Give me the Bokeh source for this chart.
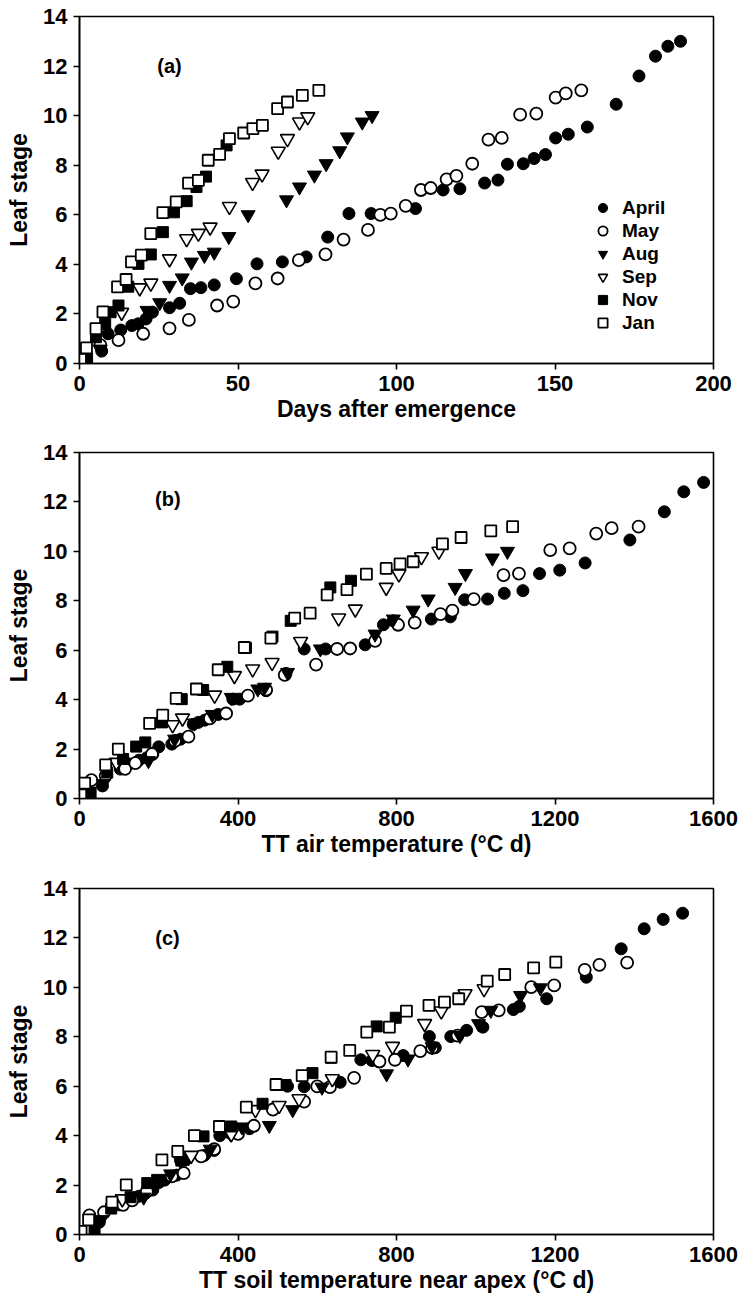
from bokeh.plotting import figure
from bokeh.layouts import column
from bokeh.models import Legend, LegendItem, Label, FixedTicker, Range1d
from bokeh.embed import file_html
from bokeh.resources import INLINE

FONT = "Liberation Sans"

series_names = ["April", "May", "Aug", "Sep", "Nov", "Jan"]

# ---------------- Panel (a): days after emergence ----------------
a_april_x = [7, 9, 13, 16.5, 18.5, 21, 23, 28.4, 31.6, 35, 38.3, 42.5, 49.5, 56, 64, 71.5, 78.3, 85, 92, 106, 114.7, 120, 127.8, 132, 135, 140, 143.4, 147, 150.2, 154.2, 160.2, 169.3, 176.5, 181.7, 185.6, 189.6]
a_april_y = [0.5, 1.2, 1.35, 1.53, 1.6, 1.8, 2.07, 2.25, 2.43, 3.02, 3.06, 3.17, 3.42, 4.02, 4.1, 4.3, 5.1, 6.05, 6.05, 6.25, 7.0, 7.05, 7.28, 7.4, 8.04, 8.06, 8.27, 8.43, 9.1, 9.25, 9.54, 10.46, 11.6, 12.4, 12.8, 13.0]
a_may_x = [6.6, 12.3, 20.1, 28.4, 34.5, 43.4, 48.5, 55.5, 62.5, 69.2, 77.6, 83.3, 91, 94.9, 98.2, 102.9, 107.7, 110.8, 115.8, 118.9, 123.9, 129, 133.2, 139, 144.1, 150.2, 153.4, 158.3]
a_may_y = [0.74, 0.94, 1.2, 1.42, 1.76, 2.34, 2.5, 3.23, 3.43, 4.17, 4.4, 5.0, 5.39, 6.0, 6.05, 6.36, 7.0, 7.08, 7.43, 7.57, 8.06, 9.03, 9.1, 10.04, 10.08, 10.73, 10.9, 11.02]
a_aug_x = [6.5, 21.3, 25.3, 28.4, 32.4, 35.3, 39.4, 42.5, 47.1, 53.2, 65.3, 69.4, 74.1, 77.8, 82.1, 84.5, 89.2, 92.3]
a_aug_y = [0.58, 2.14, 2.45, 3.15, 3.45, 4.09, 4.36, 4.49, 5.12, 6.0, 6.6, 7.12, 7.6, 8.06, 8.58, 9.14, 9.74, 10.0]
a_sep_x = [13.3, 19, 22.5, 28.4, 33.8, 37.5, 41.2, 47.3, 54.6, 57.6, 62.7, 65.6, 69.4, 72]
a_sep_y = [2.06, 3.05, 3.24, 4.22, 5.03, 5.25, 5.5, 6.33, 7.3, 7.64, 8.56, 9.07, 9.74, 9.95]
a_nov_x = [2.4, 5.2, 8.1, 9.8, 12.3, 15.4, 18.6, 22.5, 26.3, 29.8, 33.8, 36.9, 39.9, 46.4]
a_nov_y = [0.19, 1.06, 1.6, 2.07, 2.34, 3.1, 4.02, 4.4, 5.3, 6.1, 6.55, 7.12, 7.54, 8.8]
a_jan_x = [0.3, 2.2, 5.2, 7.4, 12, 14.7, 16.4, 19.5, 22.5, 26.3, 30.5, 34.4, 37.5, 40.6, 44.2, 47.3, 51.8, 54.7, 57.7, 62.5, 65.6, 70.3, 75.5]
a_jan_y = [0.17, 0.63, 1.41, 2.08, 3.09, 3.39, 4.1, 4.37, 5.24, 6.09, 6.52, 7.28, 7.39, 8.2, 8.44, 9.07, 9.3, 9.48, 9.61, 10.28, 10.55, 10.82, 11.02]

# ---------------- Panel (b): TT air temperature ----------------
b_april_x = [58, 103, 125, 150, 170, 185, 200, 233, 255, 287, 300, 316, 350, 387, 404, 471, 521, 567, 621, 721, 767, 792, 888, 936, 972, 1030, 1072, 1119, 1161, 1212, 1276, 1389, 1476, 1525, 1575]
b_april_y = [0.51, 1.19, 1.4, 1.55, 1.65, 1.8, 2.09, 2.2, 2.4, 3.0, 3.08, 3.17, 3.4, 4.02, 4.02, 4.36, 5.06, 6.05, 6.05, 6.22, 7.03, 7.19, 7.26, 7.35, 8.04, 8.07, 8.3, 8.41, 9.1, 9.24, 9.53, 10.46, 11.6, 12.41, 12.79]
b_may_x = [30, 66, 115, 141, 183, 241, 275, 329, 370, 425, 471, 518, 597, 650, 683, 746, 804, 846, 911, 941, 995, 1070, 1109, 1188, 1237, 1304, 1343, 1411]
b_may_y = [0.74, 0.92, 1.2, 1.43, 1.8, 2.33, 2.5, 3.24, 3.44, 4.16, 4.4, 5.0, 5.42, 6.05, 6.07, 6.38, 7.03, 7.12, 7.46, 7.6, 8.07, 9.04, 9.1, 10.05, 10.12, 10.72, 10.94, 11.0]
b_aug_x = [60, 174, 240, 290, 335, 383, 450, 467, 525, 608, 746, 792, 842, 880, 948, 974, 1042, 1080]
b_aug_y = [0.6, 1.53, 2.4, 3.05, 3.4, 4.09, 4.43, 4.5, 5.1, 6.05, 6.65, 7.26, 7.62, 8.07, 8.54, 9.1, 9.73, 10.0]
b_sep_x = [93, 235, 260, 341, 391, 437, 486, 558, 654, 696, 774, 806, 863, 907]
b_sep_y = [1.46, 2.98, 3.25, 4.18, 4.97, 5.24, 5.5, 6.35, 7.3, 7.66, 8.54, 9.08, 9.78, 10.0]
b_nov_x = [28, 70, 110, 143, 166, 208, 258, 312, 373, 420, 487, 533, 633, 685]
b_nov_y = [0.24, 1.05, 1.6, 2.1, 2.27, 3.08, 4.02, 4.39, 5.33, 6.1, 6.55, 7.19, 8.54, 8.81]
b_jan_x = [3, 13, 66, 98, 177, 210, 244, 295, 350, 416, 483, 543, 582, 625, 675, 724, 774, 809, 842, 916, 963, 1038, 1093]
b_jan_y = [0.15, 0.62, 1.36, 2.0, 3.04, 3.37, 4.05, 4.43, 5.21, 6.11, 6.49, 7.3, 7.5, 8.24, 8.45, 9.08, 9.31, 9.49, 9.58, 10.3, 10.56, 10.83, 11.0]

# ---------------- Panel (c): TT soil temperature near apex ----------------
c_april_x = [50, 100, 125, 150, 165, 185, 200, 215, 245, 255, 270, 315, 340, 354, 380, 429, 490, 525, 567, 658, 710, 738, 817, 898, 883, 937, 977, 1018, 1095, 1110, 1179, 1279, 1367, 1425, 1473, 1522]
c_april_y = [0.5, 1.2, 1.4, 1.55, 1.65, 1.8, 2.1, 2.2, 2.4, 3.0, 3.05, 3.2, 3.4, 4.0, 4.1, 4.28, 5.1, 6.0, 5.98, 6.16, 7.07, 7.04, 7.24, 7.56, 8.01, 8.01, 8.26, 8.39, 9.1, 9.23, 9.54, 10.41, 11.56, 12.37, 12.75, 13.0]
c_may_x = [25, 62, 110, 133, 170, 233, 263, 307, 340, 400, 440, 488, 567, 600, 632, 693, 757, 796, 860, 890, 954, 1015, 1058, 1140, 1198, 1275, 1312, 1382]
c_may_y = [0.77, 0.9, 1.2, 1.38, 1.75, 2.35, 2.48, 3.16, 3.45, 4.07, 4.4, 5.05, 5.38, 5.99, 5.96, 6.34, 7.0, 7.07, 7.42, 7.55, 8.05, 9.0, 9.07, 10.01, 10.08, 10.71, 10.91, 11.0]
c_aug_x = [55, 162, 230, 275, 330, 380, 410, 479, 538, 612, 775, 829, 890, 960, 1007, 1038, 1113, 1163]
c_aug_y = [0.6, 1.51, 2.45, 3.1, 3.45, 4.1, 4.35, 4.41, 5.05, 5.96, 6.5, 7.1, 7.6, 8.05, 8.53, 9.07, 9.67, 9.98]
c_sep_x = [108, 255, 282, 383, 444, 504, 554, 638, 740, 790, 871, 913, 973, 1021]
c_sep_y = [1.44, 3.0, 3.2, 4.07, 5.05, 5.22, 5.49, 6.3, 7.28, 7.61, 8.53, 9.04, 9.74, 9.94]
c_nov_x = [38, 80, 129, 171, 196, 257, 313, 383, 462, 520, 588, 635, 750, 798]
c_nov_y = [0.15, 1.05, 1.51, 2.08, 2.21, 2.99, 3.97, 4.37, 5.29, 6.05, 6.53, 7.15, 8.42, 8.77]
c_jan_x = [4, 23, 82, 118, 208, 248, 290, 353, 421, 496, 562, 635, 682, 725, 782, 825, 882, 921, 957, 1029, 1073, 1146, 1202]
c_jan_y = [0.13, 0.59, 1.31, 2.01, 3.02, 3.36, 4.0, 4.37, 5.15, 6.07, 6.43, 7.18, 7.45, 8.19, 8.39, 9.04, 9.27, 9.4, 9.54, 10.25, 10.52, 10.79, 11.02]

y_ticks = [0, 2, 4, 6, 8, 10, 12, 14]
a_x_ticks = [0, 50, 100, 150, 200]
bc_x_ticks = [0, 400, 800, 1200, 1600]

STYLES = {
    "April": dict(marker="circle", size=12, fill_color="black", line_color="black", line_width=1),
    "May": dict(marker="circle", size=12, fill_color="white", line_color="black", line_width=1.8),
    "Aug": dict(marker="inverted_triangle", size=14, fill_color="black", line_color="black", line_width=1),
    "Sep": dict(marker="inverted_triangle", size=14, fill_color="white", line_color="black", line_width=1.6),
    "Nov": dict(marker="square", size=11, fill_color="black", line_color="black", line_width=1),
    "Jan": dict(marker="square", size=11, fill_color="white", line_color="black", line_width=1.8),
}


def make_panel(data, x_end, x_ticks, xlabel, tag, tag_xy, height, left, right, top, bottom, legend=False):
    p = figure(width=746, height=height, x_range=Range1d(0, x_end), y_range=Range1d(0, 14),
               output_backend="svg", toolbar_location=None,
               min_border_left=left, min_border_right=right,
               min_border_top=top, min_border_bottom=bottom)
    p.xgrid.visible = False
    p.ygrid.visible = False
    p.outline_line_color = "black"
    p.outline_line_width = 1.6
    p.background_fill_color = "white"
    p.border_fill_color = "white"

    renderers = {}
    for name in series_names:
        xs, ys = data[name]
        r = p.scatter(xs, ys, **STYLES[name])
        renderers[name] = r

    for ax in (p.xaxis[0], p.yaxis[0]):
        ax.axis_line_width = 1.6
        ax.axis_line_color = "black"
        ax.major_tick_line_width = 1.6
        ax.major_tick_line_color = "black"
        ax.major_tick_out = 6
        ax.major_tick_in = 0
        ax.minor_tick_out = 0
        ax.minor_tick_in = 0
        ax.major_label_text_font = FONT
        ax.major_label_text_font_size = "22px"
        ax.major_label_text_font_style = "bold"
        ax.major_label_text_color = "black"
        ax.axis_label_text_font = FONT
        ax.axis_label_text_font_size = "23px"
        ax.axis_label_text_font_style = "bold"
        ax.axis_label_text_color = "black"

    p.xaxis[0].ticker = FixedTicker(ticks=x_ticks)
    p.yaxis[0].ticker = FixedTicker(ticks=y_ticks)
    p.xaxis[0].axis_label = xlabel
    p.yaxis[0].axis_label = "Leaf stage"
    p.xaxis[0].major_label_standoff = 6
    p.yaxis[0].major_label_standoff = 6
    p.xaxis[0].axis_label_standoff = 2
    p.yaxis[0].axis_label_standoff = 8

    p.add_layout(Label(x=tag_xy[0], y=tag_xy[1], text=tag, text_font=FONT, text_color="black",
                       text_font_style="bold", text_font_size="20px",
                       text_align="center", text_baseline="middle"))

    if legend:
        items = [LegendItem(label=n, renderers=[renderers[n]]) for n in series_names]
        lg = Legend(items=items, location=(512, 29), border_line_color=None,
                    background_fill_alpha=0, padding=0, margin=0, spacing=0,
                    glyph_width=23, glyph_height=23, label_height=23,
                    label_standoff=8, label_text_font=FONT, label_text_font_size="19px",
                    label_text_font_style="bold", label_text_color="black")
        p.add_layout(lg)
    return p


pa = make_panel({"April": (a_april_x, a_april_y), "May": (a_may_x, a_may_y), "Aug": (a_aug_x, a_aug_y),
                 "Sep": (a_sep_x, a_sep_y), "Nov": (a_nov_x, a_nov_y), "Jan": (a_jan_x, a_jan_y)},
                200, a_x_ticks, "Days after emergence", "(a)", (28.4, 12.0),
                height=430, left=79, right=27, top=16, bottom=67, legend=True)
pb = make_panel({"April": (b_april_x, b_april_y), "May": (b_may_x, b_may_y), "Aug": (b_aug_x, b_aug_y),
                 "Sep": (b_sep_x, b_sep_y), "Nov": (b_nov_x, b_nov_y), "Jan": (b_jan_x, b_jan_y)},
                1600, bc_x_ticks, "TT air temperature (°C d)", "(b)", (223, 12.1),
                height=440, left=77, right=30, top=22, bottom=72)
pc = make_panel({"April": (c_april_x, c_april_y), "May": (c_may_x, c_may_y), "Aug": (c_aug_x, c_aug_y),
                 "Sep": (c_sep_x, c_sep_y), "Nov": (c_nov_x, c_nov_y), "Jan": (c_jan_x, c_jan_y)},
                1600, bc_x_ticks, "TT soil temperature near apex (°C d)", "(c)", (222, 12.0),
                height=431, left=73, right=33, top=18, bottom=67)

layout = column(pa, pb, pc, spacing=0)
open("out.html", "w").write(file_html(layout, INLINE))
